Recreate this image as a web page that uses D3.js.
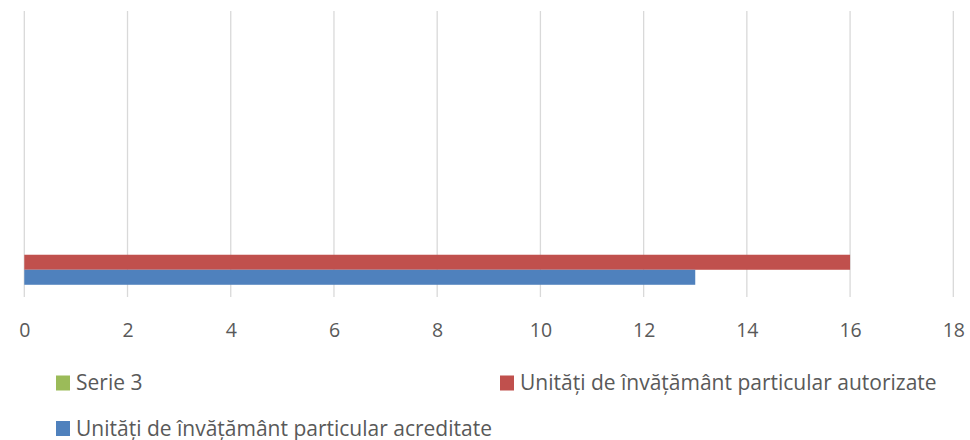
<!DOCTYPE html>
<html><head><meta charset="utf-8">
<script src="https://cdn.jsdelivr.net/npm/d3@7"></script>
<style>body{margin:0;background:#fff}svg{display:block}</style>
</head><body>
<script>
const categories = ["1", "2", "3", "4"];
const seriesNames = ["Serie 3", "Unități de învățământ particular autorizate", "Unități de învățământ particular acreditate"];
const seriesColors = ["#9bbb59", "#c0504d", "#4f81bd"];
const serie3 = [0, null, null, null];
const autorizate = [16, null, null, null];
const acreditate = [13, null, null, null];
const xTicks = [0, 2, 4, 6, 8, 10, 12, 14, 16, 18];

const W = 970, H = 440;
const font = "'Open Sans', sans-serif";
const svg = d3.select("body").append("svg").attr("width", W).attr("height", H);

const x = d3.scaleLinear().domain([0, 18]).range([24.3, 953.3]);
const y0 = d3.scaleBand().domain(categories.slice().reverse()).range([12, 298]).paddingInner(0).paddingOuter(0);
const y1 = d3.scaleBand().domain(seriesNames).range([0, y0.bandwidth()]).paddingInner(0).paddingOuter(0.88);

// gridlines
svg.append("g").selectAll("line").data(xTicks).join("line")
  .attr("x1", d => x(d)).attr("x2", d => x(d))
  .attr("y1", 11).attr("y2", 297)
  .attr("stroke", "#d9d9d9").attr("stroke-width", 1.3);

const allSeries = [serie3, autorizate, acreditate];
const rows = [];
allSeries.forEach((vals, si) => vals.forEach((v, ci) => {
  if (v != null && v > 0) rows.push({cat: categories[ci], s: seriesNames[si], v, c: seriesColors[si]});
}));
svg.append("g").selectAll("rect").data(rows).join("rect")
  .attr("x", x(0))
  .attr("y", d => y0(d.cat) + y1(d.s))
  .attr("width", d => x(d.v) - x(0))
  .attr("height", y1.bandwidth())
  .attr("fill", d => d.c);

// x axis labels
const xAxis = d3.axisBottom(x).tickValues(xTicks).tickSize(0).tickPadding(0);
const gx = svg.append("g").attr("transform", "translate(0,337)").call(xAxis);
gx.select(".domain").remove();
gx.selectAll("text").attr("fill", "#595959").style("font-family", font).style("font-size", "19.5px").attr("dy", "0");

// legend
const legend = [
  {name: seriesNames[0], color: seriesColors[0], x: 56, y: 383},
  {name: seriesNames[1], color: seriesColors[1], x: 500, y: 383},
  {name: seriesNames[2], color: seriesColors[2], x: 56, y: 428.5}
];
const lg = svg.append("g").selectAll("g").data(legend).join("g")
  .attr("transform", d => `translate(${d.x},${d.y})`);
lg.append("rect").attr("x", 0).attr("y", -7.5).attr("width", 14).attr("height", 15).attr("fill", d => d.color);
lg.append("text").attr("x", 20).attr("y", 7).text(d => d.name)
  .attr("fill", "#595959").style("font-family", font).style("font-size", "21px");
</script>
</body></html>
